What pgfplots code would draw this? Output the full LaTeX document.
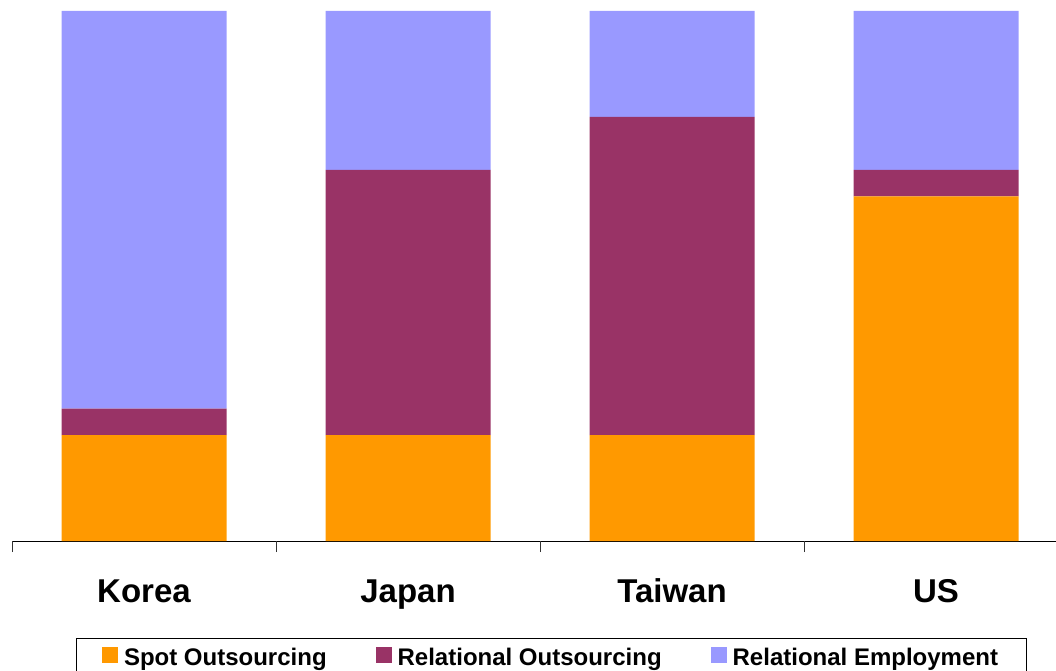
\documentclass[border=0pt]{standalone}
\usepackage{fontspec}
\setmainfont{Liberation Sans}
\usepackage{pgfplots}
\pgfplotsset{compat=1.18}
\definecolor{spot}{HTML}{FF9900}
\definecolor{relout}{HTML}{993366}
\definecolor{relemp}{HTML}{9999FF}
\begin{document}
\begin{tikzpicture}
\begin{axis}[
  at={(0,0)}, anchor=south west,
  scale only axis, width=1044bp, height=530bp,
  xmin=-0.5, xmax=3.4545, ymin=0, ymax=100,
  ybar stacked, bar width=165bp,
  axis x line*=bottom, axis y line=none,
  axis line style={black, line width=1bp},
  xtick={0,1,2,3}, xticklabels={Korea,Japan,Taiwan,US},
  major tick length=0pt,
  xticklabel style={font=\fontsize{33bp}{38bp}\selectfont\bfseries, text height=24bp, text depth=7bp, yshift=-34bp},
  extra x ticks={-0.5,0.5,1.5,2.5}, extra x tick labels={},
  extra x tick style={major tick length=11bp, tick align=outside,
    tick style={black!80, line width=0.8bp}},
  ytick=\empty,
  legend columns=3,
  legend style={at={(0.5163,-0.183)}, anchor=north, draw=black, line width=0.8bp,
    inner xsep=26bp, inner ysep=8bp,
    font=\fontsize{24bp}{28bp}\selectfont\bfseries,
    /tikz/every odd column/.append style={column sep=4bp},
    /tikz/every even column/.append style={column sep=47bp}},
  legend image code/.code={\fill[#1,draw=none] (0bp,-5bp) rectangle (16bp,11bp);},
]
\addplot[fill=spot, draw=none] coordinates {(0,20) (1,20) (2,20) (3,65)};
\addplot[fill=relout, draw=none] coordinates {(0,5) (1,50) (2,60) (3,5)};
\addplot[fill=relemp, draw=none] coordinates {(0,75) (1,30) (2,20) (3,30)};
\legend{Spot Outsourcing, Relational Outsourcing, Relational Employment}
\end{axis}
\pgfresetboundingbox
\path[use as bounding box] (-12bp,-130bp) rectangle (1044bp,541bp);
\end{tikzpicture}
\end{document}
